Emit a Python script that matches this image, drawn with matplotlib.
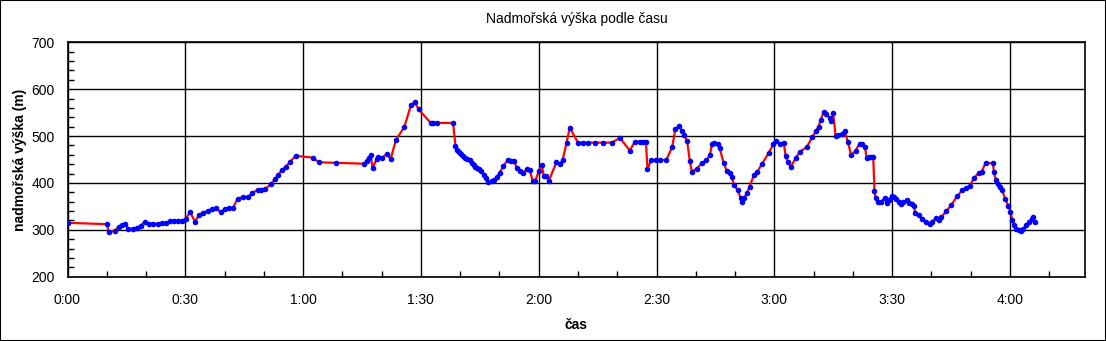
import matplotlib
matplotlib.use('Agg')
import matplotlib.pyplot as plt
from matplotlib.ticker import MultipleLocator, FuncFormatter
from matplotlib.patches import Rectangle

plt.rcParams['font.family'] = ['Liberation Sans', 'DejaVu Sans']

# time in minutes from start
minutes = [
    0.0, 10.0, 10.5, 12.1, 13.0, 13.8, 14.6, 15.5, 16.6, 17.6, 18.6, 19.7, 20.7,
    21.9, 23.0, 24.1, 25.1, 26.1, 27.1, 28.1, 29.1, 30.2, 31.2, 32.5, 33.5, 34.5,
    35.7, 36.8, 37.8, 39.0, 40.0, 41.1, 42.1, 43.3, 44.6, 45.9, 47.1, 48.4, 49.4,
    50.4, 51.8, 52.8, 53.7, 54.7, 55.6, 56.7, 58.1, 62.5, 64.0, 68.4, 75.5, 76.2, 76.7,
    77.2, 77.7, 78.7, 79.2, 80.2, 81.3, 82.3, 83.6, 85.8, 87.5, 88.5, 89.4, 92.5,
    93.1, 94.1, 98.2, 98.8, 99.2, 99.7, 100.2, 100.7, 101.3, 101.8, 102.4, 102.9,
    103.4, 103.9, 104.4, 104.9, 105.4, 106.0, 106.5, 107.2, 108.0, 108.6, 109.3,
    110.1, 111.0, 112.1, 112.9, 113.7, 114.4, 115.2, 116.0, 117.1, 117.7, 118.5,
    119.1, 120.0, 120.8, 121.3, 121.8, 122.6, 124.5, 125.4, 126.1, 127.1, 127.9,
    130.0, 131.3, 132.5, 134.3, 136.4, 138.6, 140.7, 143.2, 144.5, 145.8, 146.6,
    147.3, 147.7, 148.7, 149.8, 151.0, 152.5, 154.0, 154.8, 155.8, 156.4, 157.0,
    157.8, 158.5, 159.0, 160.2, 161.5, 162.7, 163.6, 164.1, 164.6, 165.6, 166.1,
    167.1, 167.9, 168.6, 169.2, 169.7, 170.7, 171.4, 171.7, 172.3, 173.1, 173.7,
    174.8, 175.7, 176.8, 178.6, 179.7, 180.5, 181.4, 182.4, 182.9, 183.5, 184.2,
    185.5, 186.5, 188.3, 189.7, 190.6, 191.3, 191.8, 192.6, 193.1, 194.1, 194.5,
    195.0, 195.6, 196.3, 197.2, 197.9, 198.7, 199.6, 200.7, 201.7, 202.3, 203.1,
    203.5, 204.0, 204.7, 205.2, 205.5, 205.8, 206.3, 207.1, 208.1, 208.6, 209.1,
    209.9, 210.4, 210.9, 211.7, 212.2, 212.9, 213.7, 214.2, 215.0, 215.5, 215.9,
    216.8, 217.7, 218.7, 219.7, 220.2, 221.1, 221.9, 222.5, 223.8, 225.1, 226.6,
    227.9, 228.9, 229.8, 230.8, 232.1, 232.8, 233.8, 235.7, 235.9, 236.4, 236.9,
    237.4, 238.0, 238.8, 239.6, 240.1, 240.6, 241.1, 241.5, 242.2, 242.9, 243.4,
    244.2, 244.8, 245.5, 245.8, 246.3,
]

# altitude in metres
altitude = [
    315, 312, 296, 298, 307, 310, 313, 302, 302, 304, 309, 317, 313,
    313, 313, 315, 315, 319, 319, 319, 319, 324, 338, 317, 332, 336,
    341, 344, 346, 338, 344, 346, 346, 366, 370, 370, 379, 385, 385,
    387, 398, 408, 418, 428, 435, 445, 458, 454, 444, 443, 441, 447, 454,
    460, 431, 451, 456, 454, 462, 451, 491, 520, 567, 572, 557, 528,
    528, 528, 528, 479, 470, 466, 462, 457, 454, 451, 449, 442,
    438, 435, 432, 429, 426, 417, 410, 402, 404, 407, 412,
    422, 436, 449, 447, 447, 432, 426, 422, 430, 427, 404,
    404, 425, 438, 415, 415, 405, 444, 440, 449, 486, 518,
    486, 486, 486, 486, 486, 486, 496, 469, 488, 488, 488,
    488, 430, 449, 449, 449, 449, 477, 515, 522, 511, 503,
    489, 446, 424, 430, 442, 448, 459, 482, 485, 484, 474,
    442, 426, 422, 413, 395, 385, 368, 360, 368, 379, 392,
    417, 424, 440, 464, 482, 490, 484, 486, 457, 445, 434,
    454, 466, 477, 498, 511, 520, 535, 551, 547, 538, 533,
    549, 500, 503, 504, 511, 488, 459, 469, 484, 483, 476,
    454, 456, 456, 456, 383, 368, 359, 359, 368, 357, 363,
    372, 370, 366, 359, 355, 359, 363, 357, 356, 351, 335,
    331, 324, 317, 312, 317, 325, 321, 327, 340, 353, 372,
    385, 390, 394, 410, 422, 424, 443, 442, 424, 407, 398,
    392, 385, 366, 351, 339, 322, 310, 301, 299, 298, 302,
    310, 317, 323, 328, 317,
]

W, H = 1106, 341
fig = plt.figure(figsize=(W / 100, H / 100), dpi=100)
ax = fig.add_axes([67.5 / W, 1 - 276.7 / H, (1085.3 - 67.5) / W, (276.7 - 42.3) / H])

# black frame round the whole picture
fig.patches.append(Rectangle((0, 0), 1, 1, transform=fig.transFigure, fill=False,
                             edgecolor='black', linewidth=1.5))

ax.plot(minutes, altitude, color='red', linewidth=1.6, zorder=3)
ax.plot(minutes, altitude, linestyle='none', marker='o', markersize=3.0,
        color='#0000ff', zorder=4)

ax.set_xlim(0, 259.2)
ax.set_ylim(200, 700)
ax.xaxis.set_major_locator(MultipleLocator(30))
ax.xaxis.set_minor_locator(MultipleLocator(10))
ax.yaxis.set_major_locator(MultipleLocator(100))
ax.yaxis.set_minor_locator(MultipleLocator(20))
ax.xaxis.set_major_formatter(FuncFormatter(lambda v, p: '%d:%02d' % (int(v) // 60, int(v) % 60)))

ax.grid(True, which='major', color='black', linewidth=1)
ax.set_axisbelow(True)
ax.tick_params(which='major', length=0, labelsize=10)
ax.tick_params(axis='x', which='major', pad=12)
ax.tick_params(axis='y', which='major', pad=9)
ax.tick_params(which='minor', direction='in', length=4, width=1)
for s in ax.spines.values():
    s.set_linewidth(1.2)

ax.set_title('Nadmořská výška podle času', fontsize=10, pad=14)
ax.set_xlabel('čas', fontsize=10, fontweight='bold', labelpad=8)
ax.set_ylabel('nadmořská výška (m)', fontsize=10, fontweight='bold', labelpad=3)

fig.savefig('out.png', dpi=100)
